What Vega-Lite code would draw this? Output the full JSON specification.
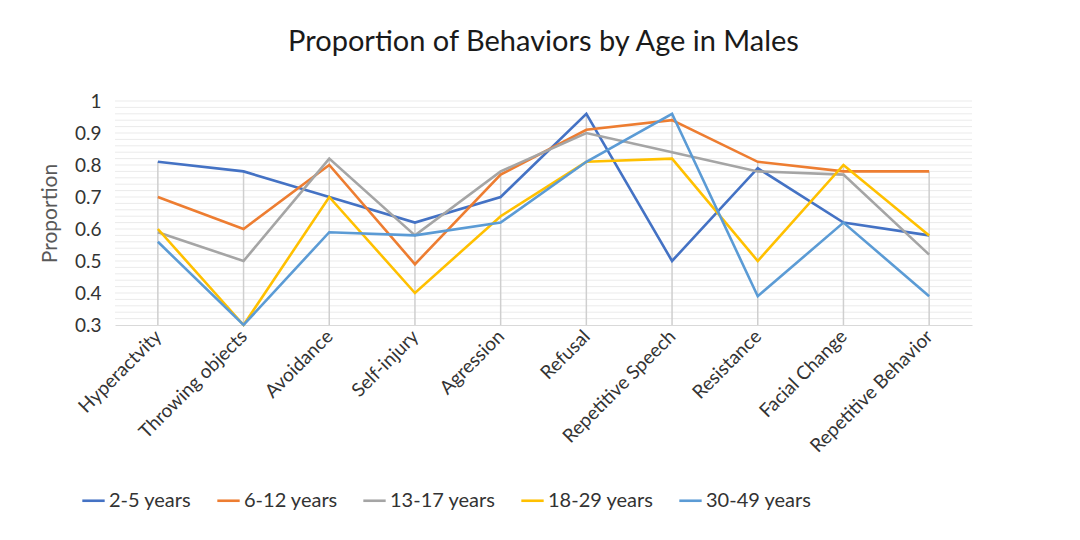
{
  "$schema": "https://vega.github.io/schema/vega-lite/v6.json",
  "width": 857,
  "height": 224,
  "autosize": {"type": "none"},
  "padding": {"left": 115, "top": 101, "right": 108, "bottom": 215},
  "background": "white",
  "title": {"text": "Proportion of Behaviors by Age in Males", "fontSize": 29, "font": "Lato", "fontWeight": "normal", "color": "#1a1a1a", "offset": 35, "anchor": "middle"},
  "data": {"values": [
    {"behavior": "Hyperactvity", "age": "2-5 years", "value": 0.81},
    {"behavior": "Hyperactvity", "age": "6-12 years", "value": 0.70},
    {"behavior": "Hyperactvity", "age": "13-17 years", "value": 0.59},
    {"behavior": "Hyperactvity", "age": "18-29 years", "value": 0.60},
    {"behavior": "Hyperactvity", "age": "30-49 years", "value": 0.56},
    {"behavior": "Throwing objects", "age": "2-5 years", "value": 0.78},
    {"behavior": "Throwing objects", "age": "6-12 years", "value": 0.60},
    {"behavior": "Throwing objects", "age": "13-17 years", "value": 0.50},
    {"behavior": "Throwing objects", "age": "18-29 years", "value": 0.30},
    {"behavior": "Throwing objects", "age": "30-49 years", "value": 0.30},
    {"behavior": "Avoidance", "age": "2-5 years", "value": 0.70},
    {"behavior": "Avoidance", "age": "6-12 years", "value": 0.80},
    {"behavior": "Avoidance", "age": "13-17 years", "value": 0.82},
    {"behavior": "Avoidance", "age": "18-29 years", "value": 0.70},
    {"behavior": "Avoidance", "age": "30-49 years", "value": 0.59},
    {"behavior": "Self-injury", "age": "2-5 years", "value": 0.62},
    {"behavior": "Self-injury", "age": "6-12 years", "value": 0.49},
    {"behavior": "Self-injury", "age": "13-17 years", "value": 0.58},
    {"behavior": "Self-injury", "age": "18-29 years", "value": 0.40},
    {"behavior": "Self-injury", "age": "30-49 years", "value": 0.58},
    {"behavior": "Agression", "age": "2-5 years", "value": 0.70},
    {"behavior": "Agression", "age": "6-12 years", "value": 0.77},
    {"behavior": "Agression", "age": "13-17 years", "value": 0.78},
    {"behavior": "Agression", "age": "18-29 years", "value": 0.64},
    {"behavior": "Agression", "age": "30-49 years", "value": 0.62},
    {"behavior": "Refusal", "age": "2-5 years", "value": 0.96},
    {"behavior": "Refusal", "age": "6-12 years", "value": 0.91},
    {"behavior": "Refusal", "age": "13-17 years", "value": 0.90},
    {"behavior": "Refusal", "age": "18-29 years", "value": 0.81},
    {"behavior": "Refusal", "age": "30-49 years", "value": 0.81},
    {"behavior": "Repetitive Speech", "age": "2-5 years", "value": 0.50},
    {"behavior": "Repetitive Speech", "age": "6-12 years", "value": 0.94},
    {"behavior": "Repetitive Speech", "age": "13-17 years", "value": 0.84},
    {"behavior": "Repetitive Speech", "age": "18-29 years", "value": 0.82},
    {"behavior": "Repetitive Speech", "age": "30-49 years", "value": 0.96},
    {"behavior": "Resistance", "age": "2-5 years", "value": 0.79},
    {"behavior": "Resistance", "age": "6-12 years", "value": 0.81},
    {"behavior": "Resistance", "age": "13-17 years", "value": 0.78},
    {"behavior": "Resistance", "age": "18-29 years", "value": 0.50},
    {"behavior": "Resistance", "age": "30-49 years", "value": 0.39},
    {"behavior": "Facial Change", "age": "2-5 years", "value": 0.62},
    {"behavior": "Facial Change", "age": "6-12 years", "value": 0.78},
    {"behavior": "Facial Change", "age": "13-17 years", "value": 0.77},
    {"behavior": "Facial Change", "age": "18-29 years", "value": 0.80},
    {"behavior": "Facial Change", "age": "30-49 years", "value": 0.62},
    {"behavior": "Repetitive Behavior", "age": "2-5 years", "value": 0.58},
    {"behavior": "Repetitive Behavior", "age": "6-12 years", "value": 0.78},
    {"behavior": "Repetitive Behavior", "age": "13-17 years", "value": 0.52},
    {"behavior": "Repetitive Behavior", "age": "18-29 years", "value": 0.58},
    {"behavior": "Repetitive Behavior", "age": "30-49 years", "value": 0.39}
  ]},
  "layer": [
    {
      "mark": {"type": "rule", "color": "#ebebeb", "strokeWidth": 1},
      "data": {"values": [
        {"g": 0.32}, {"g": 0.34}, {"g": 0.36}, {"g": 0.38}, {"g": 0.40}, {"g": 0.42}, {"g": 0.44}, {"g": 0.46}, {"g": 0.48}, {"g": 0.50},
        {"g": 0.52}, {"g": 0.54}, {"g": 0.56}, {"g": 0.58}, {"g": 0.60}, {"g": 0.62}, {"g": 0.64}, {"g": 0.66}, {"g": 0.68}, {"g": 0.70},
        {"g": 0.72}, {"g": 0.74}, {"g": 0.76}, {"g": 0.78}, {"g": 0.80}, {"g": 0.82}, {"g": 0.84}, {"g": 0.86}, {"g": 0.88}, {"g": 0.90},
        {"g": 0.92}, {"g": 0.94}, {"g": 0.96}, {"g": 0.98}, {"g": 1.0}
      ]},
      "encoding": {"y": {"field": "g", "type": "quantitative", "scale": {"domain": [0.3, 1], "nice": false, "zero": false},
          "axis": {"title": "Proportion", "titleFontSize": 21, "titleFont": "Lato", "titleFontWeight": "normal", "titleColor": "#595959", "titlePadding": 14,
            "tickCount": 7, "labelOverlap": false, "format": ".1~f", "labelFontSize": 19, "labelFont": "Lato", "labelColor": "#333333", "labelPadding": 14, "ticks": false, "domain": false, "grid": false}}}
    },
    {
      "mark": {"type": "rule", "color": "#cfcfcf", "strokeWidth": 1.5},
      "encoding": {
        "x": {"field": "behavior", "type": "nominal", "sort": null, "scale": {"type": "point", "padding": 0.5},
          "axis": {"title": null, "labelAngle": -45, "labelAlign": "right", "labelBaseline": "middle", "labelFontSize": 19, "labelFont": "Lato", "labelColor": "#333333", "ticks": false, "domain": true, "domainColor": "#d9d9d9", "labelPadding": 8, "grid": false, "labelOverlap": false}},
        "y": {"aggregate": "max", "field": "value", "type": "quantitative"},
        "y2": {"datum": 0.3}
      }
    },
    {
      "mark": {"type": "line", "strokeWidth": 2.6},
      "encoding": {
        "x": {"field": "behavior", "type": "nominal", "sort": null},
        "y": {"field": "value", "type": "quantitative"},
        "color": {"field": "age", "type": "nominal",
          "scale": {"domain": ["2-5 years", "6-12 years", "13-17 years", "18-29 years", "30-49 years"], "range": ["#4472C4", "#ED7D31", "#A5A5A5", "#FFC000", "#5B9BD5"]},
          "legend": {"title": null, "orient": "none", "direction": "horizontal", "legendX": -34, "legendY": 387, "symbolType": "stroke", "symbolSize": 500, "symbolStrokeWidth": 2.6, "labelFontSize": 20, "labelFont": "Lato", "labelColor": "#333333", "columnPadding": 20, "labelOffset": 3}}
      }
    }
  ],
  "config": {"view": {"stroke": null}, "axis": {"labelOverlap": false}}
}
